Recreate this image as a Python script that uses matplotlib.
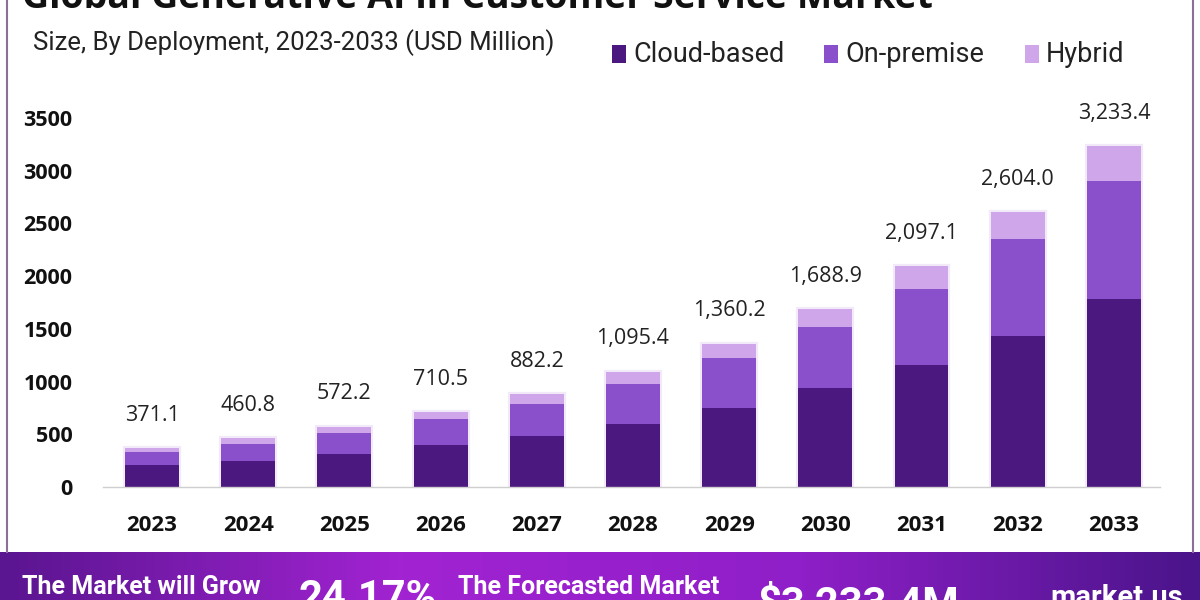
import numpy as np
import matplotlib
matplotlib.use('Agg')
import matplotlib.pyplot as plt
from matplotlib.patches import Rectangle
from matplotlib.colors import LinearSegmentedColormap
from matplotlib.lines import Line2D

# chart data (USD Million)
years = ['2023', '2024', '2025', '2026', '2027', '2028', '2029', '2030', '2031', '2032', '2033']
totals = [371.1, 460.8, 572.2, 710.5, 882.2, 1095.4, 1360.2, 1688.9, 2097.1, 2604.0, 3233.4]
cloud_based = [209, 250, 311, 397, 485, 600, 745, 935, 1154, 1430, 1779]
on_premise = [127, 159, 203, 247, 305, 380, 482, 581, 727, 920, 1126]
hybrid = [35, 52, 58, 67, 92, 115, 133, 173, 216, 254, 328]
series_names = ['Cloud-based', 'On-premise', 'Hybrid']
y_ticks = [0, 500, 1000, 1500, 2000, 2500, 3000, 3500]

colors = ['#4b1880', '#8a4fcb', '#d0a6ea']

W, H = 1200, 600
fig = plt.figure(figsize=(12, 6), dpi=100)
fig.patch.set_facecolor('white')


def fx(x):
    return x / W


def fy(y):
    return 1 - y / H


# plot area: left 103px, right 1160px, zero at y=487, 3500 at y=118
ax = fig.add_axes([fx(103), fy(487), fx(1160 - 103), (487 - 118) / H])
x = np.arange(len(years))
bw = 0.56

# soft glow behind each stack
ax.bar(x, totals, width=bw, color='none', edgecolor='#f2eaf8', linewidth=3, zorder=1)

bottom = np.zeros(len(years))
for vals, c, name in zip([cloud_based, on_premise, hybrid], colors, series_names):
    ax.bar(x, vals, width=bw, bottom=bottom, color=c, label=name, zorder=2)
    bottom += np.array(vals)

for xi, t in zip(x, totals):
    ax.annotate(f'{t:,.1f}', (xi, t), xytext=(0, 16), textcoords='offset points',
                ha='center', va='bottom', fontsize=15.5, color='#222222',
                family='Open Sans', annotation_clip=False)

ax.set_xlim(-0.51, 10.48)
ax.set_ylim(0, 3500)
ax.set_xticks(x)
ax.set_xticklabels(years, fontsize=16, fontweight='bold', family='Open Sans')
ax.set_yticks(y_ticks)
ax.set_yticklabels([str(v) for v in y_ticks], fontsize=15.5, fontweight='bold', family='Open Sans')
ax.tick_params(axis='both', length=0, colors='#111111')
ax.tick_params(axis='x', pad=20)
ax.tick_params(axis='y', pad=22)
for s in ['top', 'right', 'left']:
    ax.spines[s].set_visible(False)
ax.spines['bottom'].set_color('#cfcfcf')
ax.spines['bottom'].set_linewidth(1)

# title (cut at top edge) and subtitle
fig.text(fx(22), fy(8), 'Global Generative AI in Customer Service Market', fontsize=27,
         fontweight='bold', color='#111111', va='baseline', ha='left', family='Open Sans')
fig.text(fx(33), fy(43), 'Size, By Deployment, 2023-2033 (USD Million)', fontsize=18.5,
         color='#222222', va='center', ha='left', family='Roboto')

# legend
leg_sq = [612, 824, 1025]
for sx, c, name in zip(leg_sq, colors, series_names):
    fig.patches.append(Rectangle((fx(sx), fy(63)), fx(14), 18 / H, transform=fig.transFigure,
                                 facecolor=c, edgecolor='none'))
    fig.text(fx(sx + 21), fy(54), name, fontsize=19.5, color='#222222', va='center',
             ha='left', family='Roboto')

# frame lines at the sides
fig.add_artist(Line2D([fx(7), fx(7)], [fy(552), 1], transform=fig.transFigure, color='#8a6f98', lw=1.5))
fig.add_artist(Line2D([fx(1193), fx(1193)], [fy(552), 1], transform=fig.transFigure, color='#8a6f98', lw=1.5))

# bottom banner with gradient
bax = fig.add_axes([0, 0, 1, 48 / H])
bax.set_axis_off()
grad = LinearSegmentedColormap.from_list('band', ['#5a1590', '#a223d2', '#8f1fc8', '#4a148a'])
bax.imshow(np.linspace(0, 1, 256).reshape(1, -1), aspect='auto', cmap=grad, extent=[0, 1, 0, 1])
bax.set_xlim(0, 1)
bax.set_ylim(0, 1)

fig.text(fx(22), fy(594), 'The Market will Grow', fontsize=18, fontweight='bold', color='white',
         va='baseline', ha='left', family='Roboto')
fig.text(fx(298), fy(610), '24.17%', fontsize=30, fontweight='bold', color='white',
         va='baseline', ha='left', family='Roboto')
fig.text(fx(458), fy(594), 'The Forecasted Market', fontsize=18, fontweight='bold', color='white',
         va='baseline', ha='left', family='Roboto')
fig.text(fx(757), fy(616), '$3,233.4M', fontsize=30, fontweight='bold', color='white',
         va='baseline', ha='left', family='Roboto')
fig.text(fx(1050), fy(606), 'market.us', fontsize=21, fontweight='bold', color='white',
         va='baseline', ha='left', family='Roboto')

fig.savefig('out.png', dpi=100)
